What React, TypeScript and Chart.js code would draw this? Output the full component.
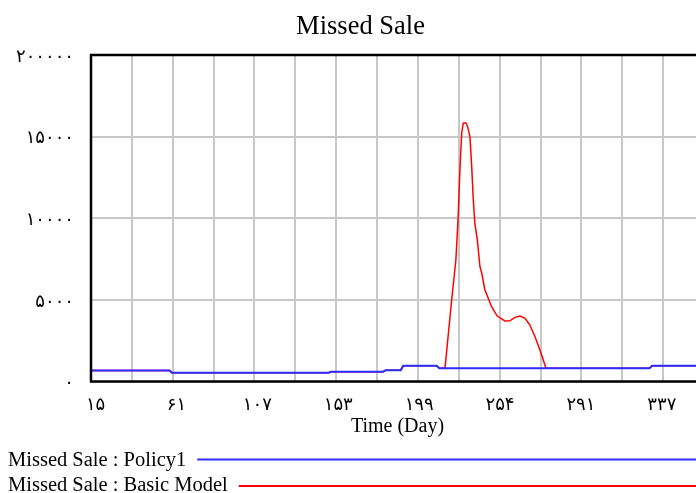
import React, { useEffect, useRef } from "react";
import { Chart, registerables } from "chart.js";

Chart.register(...registerables);

const chartTitle = "Missed Sale";
const xAxisTitle = "Time (Day)";
const seriesNames = ["Missed Sale : Policy1", "Missed Sale : Basic Model"];

const xMin = 12.4;
const xMax = 361;
const xTickValues = [15, 61, 107, 153, 199, 245, 291, 337];
const xTickLabels = ["۱۵", "۶۱", "۱۰۷", "۱۵۳", "۱۹۹", "۲۵۴", "۲۹۱", "۳۳۷"];
const yMin = 0;
const yMax = 20000;
const yTickValues = [0, 5000, 10000, 15000, 20000];
const yTickLabels = ["۰", "۵۰۰۰", "۱۰۰۰۰", "۱۵۰۰۰", "۲۰۰۰۰۰"];

const policyDays = [12.4, 57, 58.5, 147.5, 149, 178.5, 180, 188.5, 190, 209, 210.5, 330, 331.5, 361];
const policyValues = [680, 680, 540, 540, 600, 600, 690, 690, 970, 970, 810, 810, 970, 970];

const basicDays = [
  12.4, 57, 58.5, 147.5, 149, 178.5, 180, 188.5, 190, 209, 210.5, 213.7,
  217.5, 219.9, 221.2, 222.2, 223.2, 224.1, 225.5, 226.6, 227.9, 228.9, 229.8,
  230.7, 232.1, 233.6, 234.6, 236.4, 238.3, 240.2, 243.4, 247.8, 250.6, 253.5,
  256.3, 259.2, 262.0, 264.9, 267.7, 269.6, 271.1, 330, 331.5, 361,
];
const basicValues = [
  680, 680, 540, 540, 600, 600, 690, 690, 970, 970, 810, 810,
  4990, 7440, 10100, 12960, 15200, 15820, 15850, 15610, 15000, 13160, 11120,
  9690, 8670, 7030, 6630, 5610, 5100, 4580, 4010, 3710, 3720, 3930,
  4010, 3870, 3460, 2740, 1930, 1320, 810, 810, 970, 970,
];

const BLUE = "rgb(45,45,255)";
const RED = "rgb(255,0,0)";
const GRID = "#c8c8c8";
const CW = 720;
const CH = 493;

const decorPlugin = {
  id: "decor",
  afterDraw(chart: any) {
    const { ctx, chartArea } = chart;
    const a = chartArea;
    ctx.save();
    // frame
    ctx.strokeStyle = "#000";
    ctx.lineWidth = 2.5;
    ctx.strokeRect(a.left, a.top, a.right - a.left, a.bottom - a.top);
    // title
    ctx.fillStyle = "#000";
    ctx.font = '26.5px "Liberation Serif", serif';
    ctx.textAlign = "center";
    ctx.textBaseline = "alphabetic";
    ctx.fillText(chartTitle, 360.5, 34);
    // x axis title
    ctx.font = '20px "Liberation Serif", serif';
    ctx.fillText(xAxisTitle, (a.left + a.right) / 2, 432);
    // legend
    ctx.font = '20.5px "Liberation Serif", serif';
    ctx.textAlign = "left";
    const colors = [BLUE, RED];
    const baselines = [466, 491];
    const lineYs = [459.5, 486];
    seriesNames.forEach((name, i) => {
      ctx.fillStyle = "#000";
      ctx.fillText(name, 8, baselines[i]);
      const w = ctx.measureText(name).width;
      ctx.strokeStyle = colors[i];
      ctx.lineWidth = 2;
      ctx.beginPath();
      ctx.moveTo(8 + w + 11, lineYs[i]);
      ctx.lineTo(CW, lineYs[i]);
      ctx.stroke();
    });
    ctx.restore();
  },
};

export default function App() {
  const ref = useRef<HTMLCanvasElement | null>(null);
  useEffect(() => {
    if (!ref.current) return;
    const tickFont = { family: '"DejaVu Sans", sans-serif', size: 18 };
    const chart = new Chart(ref.current, {
      type: "line",
      data: {
        datasets: [
          {
            label: seriesNames[0],
            data: policyDays.map((d, i) => ({ x: d, y: policyValues[i] })),
            borderColor: BLUE,
            borderWidth: 2,
            pointRadius: 0,
            tension: 0,
            order: 0,
          },
          {
            label: seriesNames[1],
            data: basicDays.map((d, i) => ({ x: d, y: basicValues[i] })),
            borderColor: RED,
            borderWidth: 1.5,
            pointRadius: 0,
            tension: 0,
            order: 1,
          },
        ],
      },
      options: {
        responsive: false,
        animation: false,
        events: [],
        layout: { padding: { left: 0, right: CW - 704, top: 55, bottom: 0 } },
        plugins: {
          legend: { display: false },
          title: { display: false },
          tooltip: { enabled: false },
        },
        scales: {
          x: {
            type: "linear",
            position: "bottom",
            min: xMin,
            max: xMax,
            grid: { display: false },
            border: { display: false },
            afterBuildTicks: (s: any) => {
              s.ticks = xTickValues.map((v) => ({ value: v }));
            },
            afterFit: (s: any) => {
              s.height = CH - 381.5;
            },
            ticks: {
              autoSkip: false,
              maxRotation: 0,
              minRotation: 0,
              padding: 5,
              color: "#000",
              font: tickFont,
              callback: (_v: any, i: number) => xTickLabels[i],
            },
          },
          xg: {
            type: "linear",
            position: "top",
            min: xMin,
            max: xMax,
            border: { display: false },
            grid: { color: GRID, lineWidth: 2, drawTicks: false },
            ticks: { display: false },
            afterBuildTicks: (s: any) => {
              const n = 15;
              s.ticks = Array.from({ length: n + 1 }, (_, i) => ({ value: xMin + ((xMax - xMin) * i) / n }));
            },
            afterFit: (s: any) => {
              s.height = 0;
            },
          },
          y: {
            type: "linear",
            min: yMin,
            max: yMax,
            border: { display: false },
            grid: { color: GRID, lineWidth: 2, drawTicks: false },
            afterBuildTicks: (s: any) => {
              s.ticks = yTickValues.map((v) => ({ value: v }));
            },
            afterFit: (s: any) => {
              s.width = 91;
            },
            ticks: {
              padding: 17,
              labelOffset: 2,
              color: "#000",
              font: tickFont,
              callback: (_v: any, i: number) => yTickLabels[i],
            },
          },
        },
      } as any,
      plugins: [decorPlugin],
    });
    return () => chart.destroy();
  }, []);

  return (
    <div
      style={{
        position: "fixed",
        left: 0,
        top: 0,
        width: 696,
        height: 493,
        overflow: "hidden",
        background: "#fff",
      }}
    >
      <canvas ref={ref} width={CW} height={CH} style={{ display: "block", width: CW, height: CH }} />
    </div>
  );
}
